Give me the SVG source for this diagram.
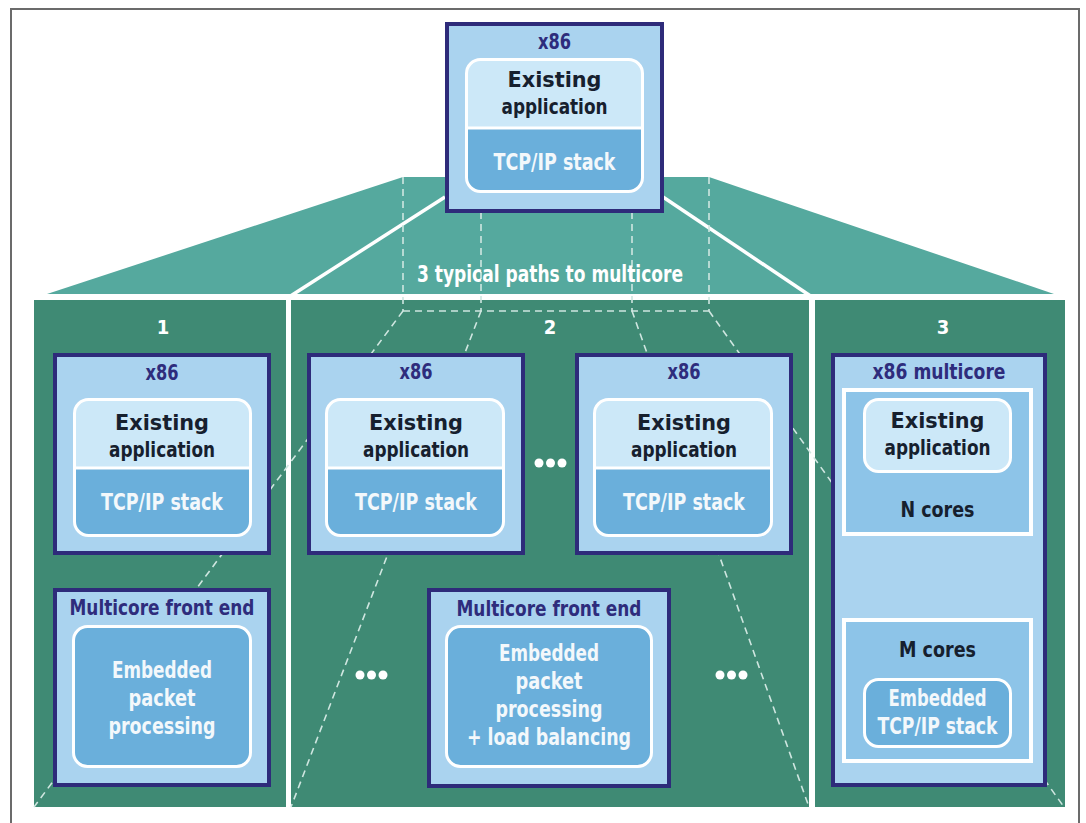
<svg xmlns="http://www.w3.org/2000/svg" width="1086" height="823" viewBox="0 0 1086 823">
  <style>
    .frame { fill: none; stroke: #6b6b6b; stroke-width: 2; }
    .fan { fill: #55a99e; }
    .panel { fill: #3f8a74; }
    .box { fill: #aad3ef; stroke: #2e2b7a; stroke-width: 4; }
    .app { fill: #cce8f8; }
    .stack { fill: #6aafdb; }
    .cores { fill: #8dc4e8; stroke: #ffffff; stroke-width: 4; }
    .outline { fill: none; stroke: #ffffff; stroke-width: 3; }
    .sep { stroke: #ffffff; stroke-width: 3; }
    .edge { stroke: #ffffff; stroke-width: 3.5; fill: none; }
    .dash { stroke: #cfe6e0; stroke-width: 1.6; fill: none; stroke-dasharray: 7 5; }
    .dot { fill: #ffffff; }
    text { font-family: "DejaVu Sans Condensed", "DejaVu Sans", "Liberation Sans", sans-serif; font-stretch: condensed; font-weight: bold; text-anchor: middle; }
    .title { fill: #2e2c7c; font-size: 21.5px; }
    .dark { fill: #16202e; font-size: 22px; }
    .light { fill: #f3f8fb; font-size: 22.5px; }
    .num { fill: #ffffff; font-size: 20px; }
    .caption { fill: #ffffff; font-size: 22.5px; }
  </style>

  <!-- outer frame -->
  <path class="frame" d="M11,823 V9 H1079 V823"/>

  <!-- fan-out band under the source box -->
  <polygon class="fan" points="403,177 709,177 1054,294 47,294"/>

  <!-- the three path panels -->
  <rect class="panel" x="34" y="300" width="252" height="507"/>
  <rect class="panel" x="291" y="300" width="518" height="507"/>
  <rect class="panel" x="815" y="300" width="250" height="507"/>

  <g id="connectors">
    <line class="edge" x1="445" y1="197" x2="289" y2="297"/>
    <line class="edge" x1="663" y1="197" x2="812" y2="297"/>
    <!-- projection outline -->
    <line class="dash" x1="403" y1="177" x2="403" y2="311"/>
    <line class="dash" x1="709" y1="177" x2="709" y2="311"/>
    <line class="dash" x1="481" y1="200" x2="481" y2="311"/>
    <line class="dash" x1="632" y1="200" x2="632" y2="311"/>
    <line class="dash" x1="403" y1="311" x2="709" y2="311"/>
    <!-- rays into the panels -->
    <line class="dash" x1="403" y1="311" x2="34" y2="807"/>
    <line class="dash" x1="481" y1="311" x2="291" y2="807"/>
    <line class="dash" x1="632" y1="311" x2="809" y2="807"/>
    <line class="dash" x1="709" y1="311" x2="1064" y2="807"/>
  </g>

  <text class="caption" x="550" y="282" textLength="266" lengthAdjust="spacingAndGlyphs">3 typical paths to multicore</text>
  <text class="num" x="163" y="334">1</text>
  <text class="num" x="550" y="334">2</text>
  <text class="num" x="943" y="334">3</text>

  <!-- source host -->
  <g id="x86-source">
    <rect class="box" x="447" y="24" width="215" height="187"/>
    <rect class="stack" x="466.5" y="59.5" width="176" height="132" rx="14"/>
    <path class="app" d="M466.5,128 V73.5 A14,14 0 0 1 480.5,59.5 H628.5 A14,14 0 0 1 642.5,73.5 V128 Z"/>
    <line class="sep" x1="466.5" y1="128" x2="642.5" y2="128"/>
    <rect class="outline" x="466.5" y="59.5" width="176" height="132" rx="14"/>
    <text class="title" x="554.5" y="49" textLength="33" lengthAdjust="spacingAndGlyphs">x86</text>
    <text class="dark" x="554.5" y="87" textLength="94" lengthAdjust="spacingAndGlyphs">Existing</text>
    <text class="dark" x="554.5" y="114" textLength="106" lengthAdjust="spacingAndGlyphs">application</text>
    <text class="light" x="554.5" y="170" textLength="122" lengthAdjust="spacingAndGlyphs">TCP/IP stack</text>
  </g>

  <!-- path 1 -->
  <g id="p1-x86">
    <rect class="box" x="55" y="355" width="214" height="198"/>
    <rect class="stack" x="74.5" y="399.5" width="176" height="136" rx="14"/>
    <path class="app" d="M74.5,468 V413.5 A14,14 0 0 1 88.5,399.5 H236.5 A14,14 0 0 1 250.5,413.5 V468 Z"/>
    <line class="sep" x1="74.5" y1="468" x2="250.5" y2="468"/>
    <rect class="outline" x="74.5" y="399.5" width="176" height="136" rx="14"/>
    <text class="title" x="162" y="380" textLength="33" lengthAdjust="spacingAndGlyphs">x86</text>
    <text class="dark" x="162" y="430" textLength="94" lengthAdjust="spacingAndGlyphs">Existing</text>
    <text class="dark" x="162" y="457" textLength="106" lengthAdjust="spacingAndGlyphs">application</text>
    <text class="light" x="162" y="510" textLength="122" lengthAdjust="spacingAndGlyphs">TCP/IP stack</text>
  </g>
  <g id="p1-frontend">
    <rect class="box" x="55" y="590" width="214" height="195"/>
    <rect class="stack" x="73.5" y="626.5" width="177" height="140" rx="14"/>
    <rect class="outline" x="73.5" y="626.5" width="177" height="140" rx="14"/>
    <text class="title" x="162" y="615" textLength="185" lengthAdjust="spacingAndGlyphs">Multicore front end</text>
    <text class="light" x="162" y="678" textLength="100" lengthAdjust="spacingAndGlyphs">Embedded</text>
    <text class="light" x="162" y="706" textLength="67" lengthAdjust="spacingAndGlyphs">packet</text>
    <text class="light" x="162" y="734" textLength="107" lengthAdjust="spacingAndGlyphs">processing</text>
  </g>

  <!-- path 2 -->
  <g id="p2-x86-a">
    <rect class="box" x="309" y="355" width="214" height="198"/>
    <rect class="stack" x="326.5" y="399.5" width="177" height="136" rx="14"/>
    <path class="app" d="M326.5,468 V413.5 A14,14 0 0 1 340.5,399.5 H489.5 A14,14 0 0 1 503.5,413.5 V468 Z"/>
    <line class="sep" x1="326.5" y1="468" x2="503.5" y2="468"/>
    <rect class="outline" x="326.5" y="399.5" width="177" height="136" rx="14"/>
    <text class="title" x="416" y="379" textLength="33" lengthAdjust="spacingAndGlyphs">x86</text>
    <text class="dark" x="416" y="430" textLength="94" lengthAdjust="spacingAndGlyphs">Existing</text>
    <text class="dark" x="416" y="457" textLength="106" lengthAdjust="spacingAndGlyphs">application</text>
    <text class="light" x="416" y="510" textLength="122" lengthAdjust="spacingAndGlyphs">TCP/IP stack</text>
  </g>
  <g id="p2-x86-b">
    <rect class="box" x="577" y="355" width="214" height="198"/>
    <rect class="stack" x="594.5" y="399.5" width="177" height="136" rx="14"/>
    <path class="app" d="M594.5,468 V413.5 A14,14 0 0 1 608.5,399.5 H757.5 A14,14 0 0 1 771.5,413.5 V468 Z"/>
    <line class="sep" x1="594.5" y1="468" x2="771.5" y2="468"/>
    <rect class="outline" x="594.5" y="399.5" width="177" height="136" rx="14"/>
    <text class="title" x="684" y="379" textLength="33" lengthAdjust="spacingAndGlyphs">x86</text>
    <text class="dark" x="684" y="430" textLength="94" lengthAdjust="spacingAndGlyphs">Existing</text>
    <text class="dark" x="684" y="457" textLength="106" lengthAdjust="spacingAndGlyphs">application</text>
    <text class="light" x="684" y="510" textLength="122" lengthAdjust="spacingAndGlyphs">TCP/IP stack</text>
  </g>
  <g id="p2-ellipsis">
    <circle class="dot" cx="539" cy="463" r="4.5"/>
    <circle class="dot" cx="550.5" cy="463" r="4.5"/>
    <circle class="dot" cx="562" cy="463" r="4.5"/>
    <circle class="dot" cx="360" cy="675" r="4.5"/>
    <circle class="dot" cx="371.5" cy="675" r="4.5"/>
    <circle class="dot" cx="383" cy="675" r="4.5"/>
    <circle class="dot" cx="720" cy="675" r="4.5"/>
    <circle class="dot" cx="731.5" cy="675" r="4.5"/>
    <circle class="dot" cx="743" cy="675" r="4.5"/>
  </g>
  <g id="p2-frontend">
    <rect class="box" x="429" y="590" width="240" height="196"/>
    <rect class="stack" x="446.5" y="626.5" width="205" height="140" rx="14"/>
    <rect class="outline" x="446.5" y="626.5" width="205" height="140" rx="14"/>
    <text class="title" x="549" y="616" textLength="185" lengthAdjust="spacingAndGlyphs">Multicore front end</text>
    <text class="light" x="549" y="661" textLength="100" lengthAdjust="spacingAndGlyphs">Embedded</text>
    <text class="light" x="549" y="689" textLength="67" lengthAdjust="spacingAndGlyphs">packet</text>
    <text class="light" x="549" y="717" textLength="107" lengthAdjust="spacingAndGlyphs">processing</text>
    <text class="light" x="549" y="745" textLength="164" lengthAdjust="spacingAndGlyphs">+ load balancing</text>
  </g>

  <!-- path 3 -->
  <g id="p3-multicore">
    <rect class="box" x="833" y="355" width="212" height="430"/>
    <text class="title" x="939" y="379" textLength="133" lengthAdjust="spacingAndGlyphs">x86 multicore</text>
    <g id="p3-ncores">
      <rect class="cores" x="844" y="390" width="187" height="144"/>
      <rect class="app" x="864.5" y="399.5" width="146" height="72" rx="14"/>
      <rect class="outline" x="864.5" y="399.5" width="146" height="72" rx="14"/>
      <text class="dark" x="937.5" y="428" textLength="94" lengthAdjust="spacingAndGlyphs">Existing</text>
      <text class="dark" x="937.5" y="455" textLength="106" lengthAdjust="spacingAndGlyphs">application</text>
      <text class="dark" x="937.5" y="517" textLength="74" lengthAdjust="spacingAndGlyphs">N cores</text>
    </g>
    <g id="p3-mcores">
      <rect class="cores" x="844" y="620" width="187" height="141"/>
      <rect class="stack" x="864.5" y="679.5" width="146" height="67" rx="14"/>
      <rect class="outline" x="864.5" y="679.5" width="146" height="67" rx="14"/>
      <text class="dark" x="937.5" y="657" textLength="77" lengthAdjust="spacingAndGlyphs">M cores</text>
      <text class="light" x="937.5" y="706" textLength="98" lengthAdjust="spacingAndGlyphs">Embedded</text>
      <text class="light" x="937.5" y="734" textLength="120" lengthAdjust="spacingAndGlyphs">TCP/IP stack</text>
    </g>
  </g>
</svg>
